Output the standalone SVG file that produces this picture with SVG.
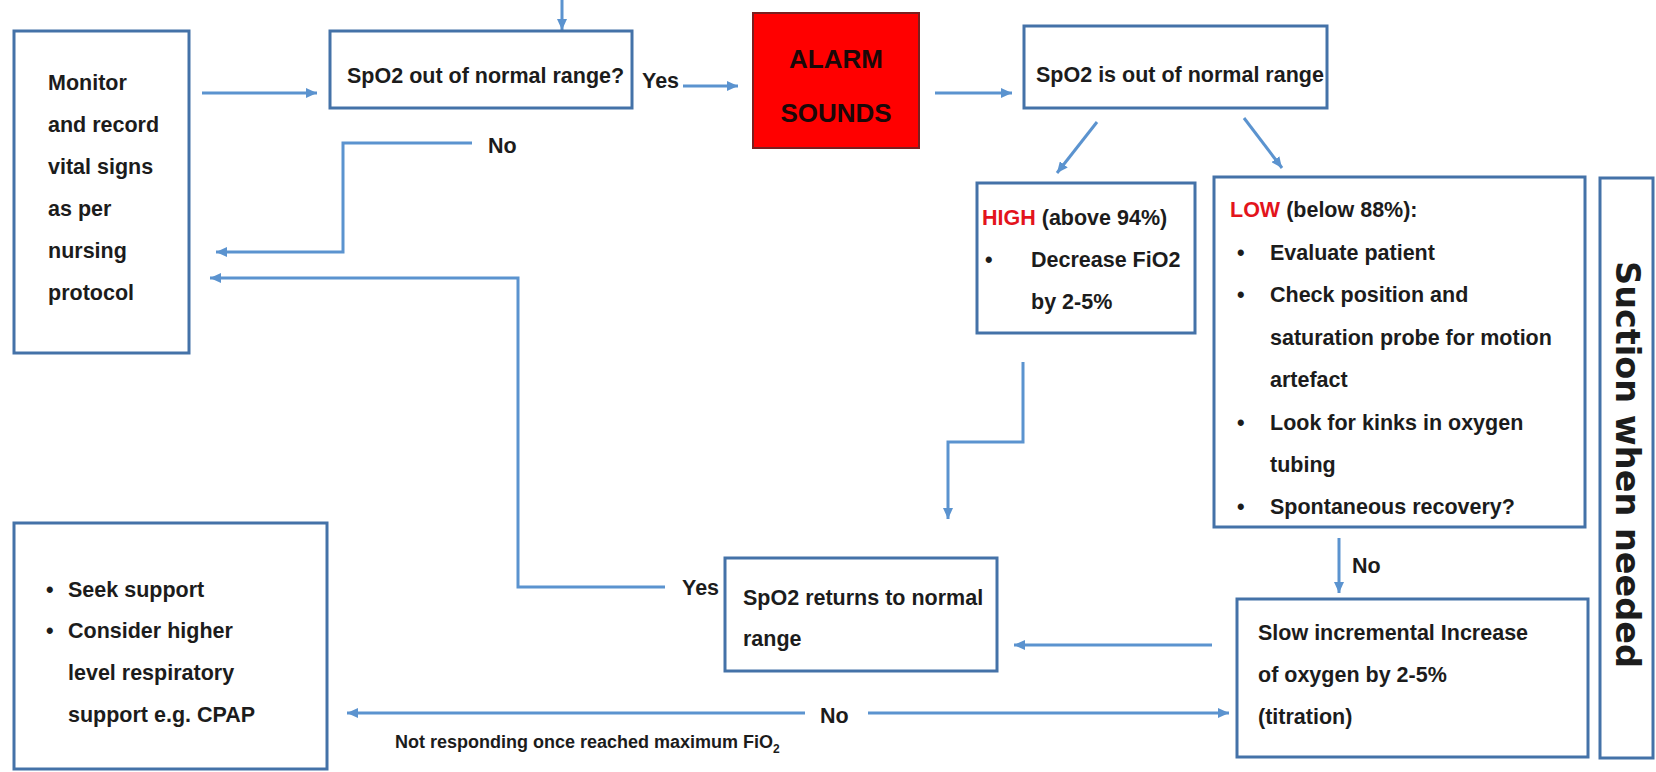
<svg xmlns="http://www.w3.org/2000/svg" width="1656" height="772" viewBox="0 0 1656 772">
<style>
.box{fill:#ffffff;stroke:#4472a8;stroke-width:3}
.t{font-family:"Liberation Sans",Arial,sans-serif;font-weight:bold;font-size:21.5px;fill:#1c1c1c}
.red{fill:#e3141c}
.conn{fill:none;stroke:#5b93cf;stroke-width:3}
</style>
<defs>
<marker id="ah" markerUnits="userSpaceOnUse" markerWidth="11" markerHeight="10" refX="11" refY="5" orient="auto">
<path d="M0,0 L11,5 L0,10 z" fill="#5b93cf"/>
</marker>
</defs>
<rect width="1656" height="772" fill="#ffffff"/>

<g id="connectors">
<path class="conn" d="M562,0 V30" marker-end="url(#ah)"/>
<path class="conn" d="M202,93 H317" marker-end="url(#ah)"/>
<path class="conn" d="M683,86 H738" marker-end="url(#ah)"/>
<path class="conn" d="M935,93 H1012" marker-end="url(#ah)"/>
<path class="conn" d="M1097,122 L1057,173" marker-end="url(#ah)"/>
<path class="conn" d="M1244,118 L1282,168" marker-end="url(#ah)"/>
<path class="conn" d="M472,143 H343 V252 H216" marker-end="url(#ah)"/>
<path class="conn" d="M665,587 H518 V278 H210" marker-end="url(#ah)"/>
<path class="conn" d="M1023,362 V442 H948 V519" marker-end="url(#ah)"/>
<path class="conn" d="M1339,538 V593" marker-end="url(#ah)"/>
<path class="conn" d="M1212,645 H1014" marker-end="url(#ah)"/>
<path class="conn" d="M805,713 H347" marker-end="url(#ah)"/>
<path class="conn" d="M868,713 H1229" marker-end="url(#ah)"/>
<text class="t" x="488" y="153">No</text>
<text class="t" x="642" y="88">Yes</text>
<text class="t" x="682" y="595">Yes</text>
<text class="t" x="1352" y="573">No</text>
<text class="t" x="820" y="723">No</text>
<text class="t" x="395" y="748" style="font-size:18px">Not responding once reached maximum FiO<tspan dy="5" style="font-size:12px">2</tspan></text>
</g>

<g id="monitor">
<rect class="box" x="14" y="31" width="175" height="322"/>
<text class="t"><tspan x="48" y="90">Monitor</tspan><tspan x="48" y="132">and record</tspan><tspan x="48" y="174">vital signs</tspan><tspan x="48" y="216">as per</tspan><tspan x="48" y="258">nursing</tspan><tspan x="48" y="300">protocol</tspan></text>
</g>

<g id="spo2-out-question">
<rect class="box" x="330" y="31" width="302" height="77"/>
<text class="t" x="347" y="83">SpO2 out of normal range?</text>
</g>

<g id="alarm">
<rect x="753" y="13" width="166" height="135" fill="#ff0000" stroke="#7a1f1f" stroke-width="2"/>
<text class="t" x="836" y="68" text-anchor="middle" style="font-size:26px;fill:#1a0808">ALARM</text>
<text class="t" x="836" y="122" text-anchor="middle" style="font-size:26px;fill:#1a0808">SOUNDS</text>
</g>

<g id="spo2-is-out">
<rect class="box" x="1024" y="26" width="303" height="82"/>
<text class="t" x="1036" y="82">SpO2 is out of normal range</text>
</g>

<g id="high">
<rect class="box" x="977" y="183" width="218" height="150"/>
<text class="t" x="982" y="225"><tspan class="red">HIGH</tspan> (above 94%)</text>
<text class="t" x="985" y="267">•</text>
<text class="t"><tspan x="1031" y="267">Decrease FiO2</tspan><tspan x="1031" y="309">by 2-5%</tspan></text>
</g>

<g id="low">
<rect class="box" x="1214" y="177" width="371" height="350"/>
<text class="t" x="1230" y="217"><tspan class="red">LOW</tspan> (below 88%):</text>
<text class="t"><tspan x="1237" y="260">•</tspan><tspan x="1237" y="302">•</tspan><tspan x="1237" y="430">•</tspan><tspan x="1237" y="514">•</tspan></text>
<text class="t"><tspan x="1270" y="260">Evaluate patient</tspan><tspan x="1270" y="302">Check position and</tspan><tspan x="1270" y="345">saturation probe for motion</tspan><tspan x="1270" y="387">artefact</tspan><tspan x="1270" y="430">Look for kinks in oxygen</tspan><tspan x="1270" y="472">tubing</tspan><tspan x="1270" y="514">Spontaneous recovery?</tspan></text>
</g>

<g id="suction">
<rect class="box" x="1600" y="178" width="53" height="580"/>
<text x="1616" y="261" transform="rotate(90 1616 261)" style="font-family:'DejaVu Sans',Verdana,sans-serif;font-weight:bold;font-size:33.5px;fill:#1c1c1c">Suction when needed</text>
</g>

<g id="slow-increase">
<rect class="box" x="1237" y="599" width="351" height="158"/>
<text class="t"><tspan x="1258" y="640">Slow incremental Increase</tspan><tspan x="1258" y="682">of oxygen by 2-5%</tspan><tspan x="1258" y="724">(titration)</tspan></text>
</g>

<g id="spo2-returns">
<rect class="box" x="725" y="558" width="272" height="113"/>
<text class="t"><tspan x="743" y="605">SpO2 returns to normal</tspan><tspan x="743" y="646">range</tspan></text>
</g>

<g id="seek-support">
<rect class="box" x="14" y="523" width="313" height="246"/>
<text class="t"><tspan x="46" y="597">•</tspan><tspan x="46" y="638">•</tspan></text>
<text class="t"><tspan x="68" y="597">Seek support</tspan><tspan x="68" y="638">Consider higher</tspan><tspan x="68" y="680">level respiratory</tspan><tspan x="68" y="722">support e.g. CPAP</tspan></text>
</g>
</svg>
